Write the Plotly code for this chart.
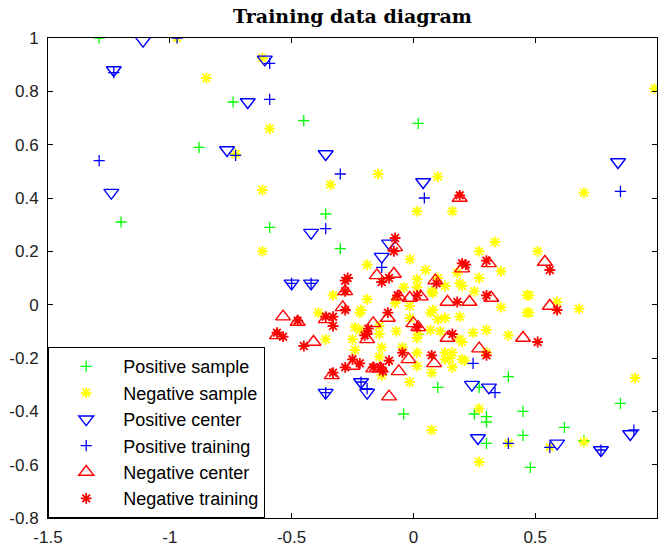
import plotly.graph_objects as go

# ---------------- data ----------------
pos_sample_x = [-1.29, -1.20, -0.88, -0.74, -0.45, 0.02, -0.59, -0.36, -0.30, -0.04, 0.10, 0.27,
                0.39, 0.25, 0.30, 0.30, 0.30, 0.45, 0.45, 0.62, 0.48, 0.85, 0.70]
pos_sample_y = [1.00, 0.31, 0.59, 0.76, 0.69, 0.68, 0.29, 0.34, 0.21, -0.41, -0.31, -0.31,
                -0.27, -0.41, -0.42, -0.44, -0.52, -0.40, -0.49, -0.46, -0.61, -0.37, -0.51]

neg_sample_x = [-0.97, -0.85, -0.62, -0.59, -0.62, -0.73, -0.34, -0.62, -0.145, -0.19, 0.10, 0.70,
                0.99, 0.015, 0.16, 0.335, 0.27, -0.014, 0.51, 0.05, 0.36, 0.18, 0.27, 0.015,
                0.10, 0.19, 0.20, 0.13, 0.075, -0.04, 0.25, 0.475, -0.33, -0.19, 0.59, 0.68,
                0.475, 0.36, 0.07, -0.015, -0.07, -0.215, -0.24, -0.14, -0.07, -0.015, 0.10, 0.13,
                0.07, 0.19, 0.245, 0.30, 0.39, -0.13, 0.015, -0.045, -0.24, -0.14, 0.015, 0.13,
                0.20, 0.30, 0.015, -0.13, 0.075, 0.16, -0.015, 0.91, -0.39, -0.36, -0.22, -0.22,
                -0.25, 0.27, 0.27, 0.075, 0.70, 0.39, 0.56, 0.20, 0.15, 0.02, 0.11, 0.08,
                0.19, -0.075, -0.14, 0.015, 0.21, 0.13, 0.16, 0.466, 0.466, 0.08]
neg_sample_y = [1.00, 0.85, 0.925, 0.66, 0.43, 0.565, 0.45, 0.20, 0.49, 0.15, 0.48, 0.42,
                0.81, 0.35, 0.35, 0.235, 0.20, 0.17, 0.20, 0.13, 0.125, 0.12, 0.10, 0.095,
                0.10, 0.08, 0.07, 0.07, 0.05, 0.065, 0.05, 0.035, 0.035, 0.02, 0.01, -0.015,
                -0.03, -0.01, -0.03, -0.005, 0.02, -0.02, -0.085, -0.08, -0.10, -0.05, -0.055, -0.05,
                -0.095, -0.13, -0.105, -0.095, -0.115, -0.16, -0.125, -0.16, -0.17, -0.195, -0.18, -0.205,
                -0.205, -0.18, -0.23, -0.265, -0.255, -0.235, -0.29, -0.275, -0.03, -0.13, -0.03, -0.095,
                -0.13, -0.39, -0.59, -0.47, -0.515, -0.52, -0.535, -0.14, -0.20, -0.11, -0.10, -0.02,
                -0.045, 0.006, -0.11, 0.066, -0.21, -0.18, -0.18, 0.036, -0.03, 0.044]

pos_center_x = [-1.11, -1.23, -1.24, -0.68, -0.765, -0.61, -0.36, 0.04, 0.84, -0.42, -0.10, -0.13,
                -0.50, -0.42, -0.215, -0.19, -0.36, 0.24, 0.31, 0.265, 0.59, 0.77, 0.89]
pos_center_y = [0.99, 0.88, 0.42, 0.76, 0.58, 0.92, 0.565, 0.46, 0.535, 0.27, 0.23, 0.18,
                0.08, 0.08, -0.29, -0.33, -0.33, -0.30, -0.31, -0.50, -0.52, -0.545, -0.485]

pos_train_x = [-0.97, -1.23, -1.29, -0.73, -0.59, -0.59, -0.30, 0.045, 0.85, -0.36, -0.13, -0.50,
               -0.42, -0.36, -0.215, -0.19, 0.245, 0.335, 0.39, 0.56, 0.77, 0.905]
pos_train_y = [1.00, 0.87, 0.54, 0.56, 0.905, 0.77, 0.49, 0.40, 0.425, 0.285, 0.14, 0.08,
               0.08, -0.33, -0.29, -0.315, -0.22, -0.33, -0.52, -0.535, -0.545, -0.47]

neg_center_x = [0.19, -0.075, 0.31, -0.15, -0.08, -0.28, -0.29, 0.09, -0.06, -0.015, 0.14, 0.23,
                0.32, 0.20, 0.54, 0.56, 0.45, 0.27, -0.105, -0.165, -0.19, 0.00, 0.02, 0.14,
                -0.02, 0.085, -0.06, -0.165, -0.135, -0.25, -0.335, -0.10, -0.535, -0.475, -0.56, -0.41,
                -0.36, 0.03]
neg_center_y = [0.40, 0.215, 0.155, 0.11, 0.115, 0.05, -0.01, 0.09, 0.03, 0.025, 0.01, 0.01,
                0.025, 0.135, 0.16, -0.005, -0.125, -0.165, -0.05, -0.07, -0.13, -0.07, -0.085, -0.125,
                -0.205, -0.22, -0.25, -0.24, -0.24, -0.23, -0.265, -0.345, -0.045, -0.065, -0.115, -0.14,
                -0.055, 0.03]

neg_train_x = [0.19, -0.075, -0.08, 0.30, 0.215, -0.13, -0.10, -0.28, -0.28, -0.28, -0.33, -0.33,
               0.095, -0.065, 0.015, 0.18, 0.30, 0.20, 0.56, 0.59, 0.51, 0.30, -0.105, -0.185,
               -0.19, 0.015, 0.16, -0.045, 0.075, -0.10, -0.165, -0.135, -0.125, -0.25, -0.28, -0.22,
               -0.33, -0.475, -0.56, -0.535, -0.45, -0.27, -0.20, -0.36]
neg_train_y = [0.41, 0.25, 0.20, 0.165, 0.15, 0.085, 0.10, 0.09, 0.05, -0.02, -0.045, -0.08,
               0.08, 0.035, 0.035, 0.01, 0.035, 0.155, 0.13, -0.02, -0.14, -0.19, -0.03, -0.09,
               -0.11, -0.085, -0.11, -0.18, -0.19, -0.21, -0.235, -0.235, -0.25, -0.205, -0.235, -0.22,
               -0.255, -0.06, -0.105, -0.12, -0.155, 0.10, -0.115, -0.045]

x_ticks = [-1.5, -1, -0.5, 0, 0.5, 1]
x_labels = ["-1.5", "-1", "-0.5", "0", "0.5", "1"]
y_ticks = [-0.8, -0.6, -0.4, -0.2, 0, 0.2, 0.4, 0.6, 0.8, 1]
y_labels = ["-0.8", "-0.6", "-0.4", "-0.2", "0", "0.2", "0.4", "0.6", "0.8", "1"]

# ---------------- figure ----------------
series = [
    ("Positive sample", pos_sample_x, pos_sample_y, "cross-thin", "#00ff00", 8, 1.3),
    ("Negative sample", neg_sample_x, neg_sample_y, "asterisk", "#ffff00", 9, 1.8),
    ("Positive center", pos_center_x, pos_center_y, "triangle-down-open", "#0000ff", 13, 1.4),
    ("Positive training", pos_train_x, pos_train_y, "cross-thin", "#0000ff", 8, 1.3),
    ("Negative center", neg_center_x, neg_center_y, "triangle-up-open", "#ff0000", 13, 1.4),
    ("Negative training", neg_train_x, neg_train_y, "asterisk", "#ff0000", 9, 1.8),
]

fig = go.Figure()
for i, (name, xs, ys, sym, col, sz, lw) in enumerate(series):
    fig.add_trace(go.Scatter(
        x=xs, y=ys, mode="markers", name=name,
        marker=dict(symbol=sym, size=sz, color=col, line=dict(color=col, width=lw)),
    ))

axis_font = dict(family="Liberation Sans, Arial, sans-serif", size=17, color="#222222")
fig.update_layout(
    width=658, height=550,
    margin=dict(l=48, r=1, t=38, b=32),
    paper_bgcolor="white", plot_bgcolor="white",
    title=dict(text="<b>Training data diagram</b>", x=0.5, xref="paper",
               y=1 - 16 / 550, yref="container", yanchor="middle",
               font=dict(family="DejaVu Serif, serif", size=19, color="black")),
    xaxis=dict(range=[-1.5, 1], tickvals=x_ticks, ticktext=x_labels, ticks="inside", ticklen=5,
               tickcolor="black", showline=True, linecolor="black", linewidth=1, mirror="ticks",
               showgrid=False, zeroline=False, tickfont=axis_font, ticklabelstandoff=4),
    yaxis=dict(range=[-0.8, 1], tickvals=y_ticks, ticktext=y_labels, ticks="inside", ticklen=5,
               tickcolor="black", showline=True, linecolor="black", linewidth=1, mirror="ticks",
               showgrid=False, zeroline=False, tickfont=axis_font, ticklabelstandoff=5),
    legend=dict(x=0, y=0, xanchor="left", yanchor="bottom", bgcolor="white",
                bordercolor="black", borderwidth=1.2, traceorder="normal",
                itemwidth=64,
                font=dict(family="Liberation Sans, Arial, sans-serif", size=18, color="black")),
    showlegend=True,
)

fig.write_html("out.html")
